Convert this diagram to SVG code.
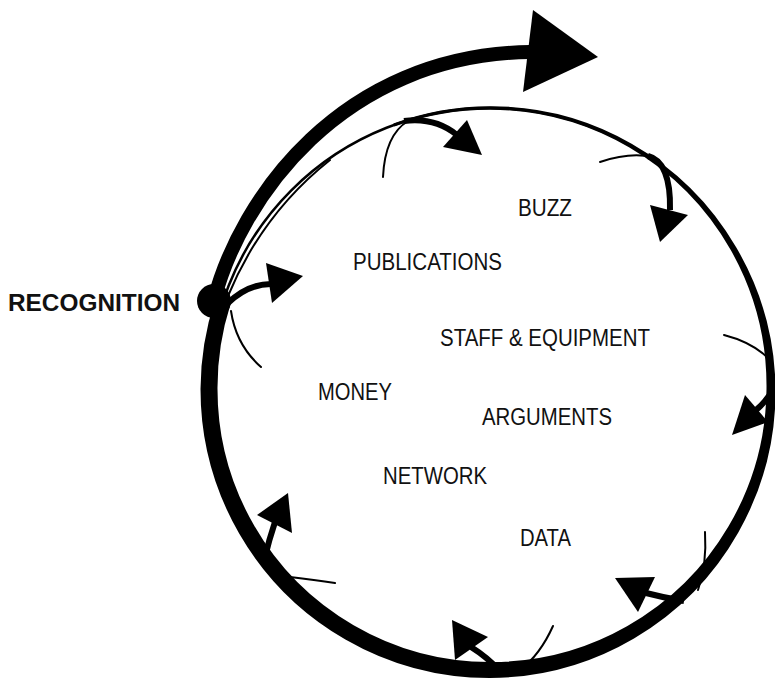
<svg xmlns="http://www.w3.org/2000/svg" width="775" height="680" viewBox="0 0 775 680">
<style>
.lbl{font-family:"Liberation Sans",Arial,sans-serif;font-size:23px;fill:#111;}
.bold{font-weight:bold;font-size:24px;}
.sh{fill:none;stroke:#000;stroke-width:6;stroke-linecap:butt;}
.sw{fill:none;stroke:#000;stroke-width:2;stroke-linecap:round;}
.hd{fill:#000;}
</style>
<rect width="775" height="680" fill="#fff"/>
<g id="connectors">
  <g id="ring">
    <circle cx="490" cy="389" r="281" fill="none" stroke="#000" stroke-width="2.5"/>
    <path fill="#000" d="M215.1,299.7 A289,289 0 0 0 200.5,389 A289.5,289.5 0 0 0 239.3,533.75 A289.5,289.5 0 0 0 345.4,639.5 A289,289 0 0 0 490,678 A288.5,288.5 0 0 0 634,638.4 A287,287 0 0 0 738.3,532.4 A286,286 0 0 0 775.5,389 A285,285 0 0 0 736,247 A283.5,283.5 0 0 0 631.6,143.7 A283,283 0 0 0 490,106.25 A282.6,282.6 0 0 0 393.4,123.5 L394.4,126.4 A279.4,279.4 0 0 1 490,109.75 A279,279 0 0 1 629.4,147.6 A278.4,278.4 0 0 1 730.75,250 A277,277 0 0 1 766.5,389 A276,276 0 0 1 728.4,526.6 A274.6,274.6 0 0 1 627,626.3 A273.5,273.5 0 0 1 490,662 A273,273 0 0 1 353.6,625.2 A272.6,272.6 0 0 1 254,525.25 A272.5,272.5 0 0 1 217.5,389 A272.7,272.7 0 0 1 230.4,304.6 Z"/>
    <path class="sw" stroke-width="1.5" d="M330,160 Q262,214 228,296"/>
  </g>
  <g id="big-arrow">
    <path fill="none" stroke="#000" stroke-width="14" d="M214,300 C240,200 340,55 530,52"/>
    <polygon class="hd" points="533,10 598,57 523,92"/>
  </g>
  <g id="arrow-recognition">
    <path class="sw" d="M231,311 Q236,345 261,367"/>
    <path class="sh" d="M228,303 Q248,284 271,284"/>
    <polygon class="hd" points="266,263 303,276 272,303"/>
  </g>
  <g id="arrow-top">
    <path class="sw" d="M383,177 Q385,135 408,121"/>
    <path class="sh" d="M404,121 Q435,117 457,135"/>
    <polygon class="hd" points="467,120 482,155 443,147"/>
  </g>
  <g id="arrow-topright">
    <path class="sw" d="M600,162 Q630,152 652,157"/>
    <path class="sh" stroke-width="5" d="M648,156 Q671,162 670,210"/>
    <polygon class="hd" points="650,205 688,215 660,242"/>
  </g>
  <g id="arrow-right">
    <path class="sw" d="M724,335 Q755,343 772,362"/>
    <path class="sh" d="M776,385 Q768,400 756,410"/>
    <polygon class="hd" points="745,395 768,422 732,435"/>
  </g>
  <g id="arrow-bottomright">
    <path class="sw" d="M705,532 Q707,565 698,590"/>
    <path class="sh" d="M684,601 Q665,598 646,593"/>
    <polygon class="hd" points="615,578 655,577 638,612"/>
  </g>
  <g id="arrow-bottom">
    <path class="sw" d="M553,626 Q540,655 520,670"/>
    <path class="sh" d="M500,671 Q487,657 471,647"/>
    <polygon class="hd" points="452,620 488,637 455,660"/>
  </g>
  <g id="arrow-bottomleft">
    <path class="sw" d="M290,577 Q315,580 335,583"/>
    <path class="sh" d="M265,557 Q269,540 275,522"/>
    <polygon class="hd" points="257,515 288,493 292,533"/>
  </g>
</g>
<g id="recognition">
  <circle cx="214" cy="301" r="17" fill="#000"/>
  <text class="lbl bold" x="8" y="311" textLength="172" lengthAdjust="spacingAndGlyphs">RECOGNITION</text>
</g>
<g id="buzz"><text class="lbl" x="518" y="216" textLength="54" lengthAdjust="spacingAndGlyphs">BUZZ</text></g>
<g id="publications"><text class="lbl" x="353" y="270" textLength="149" lengthAdjust="spacingAndGlyphs">PUBLICATIONS</text></g>
<g id="staff-equipment"><text class="lbl" x="440" y="346" textLength="210" lengthAdjust="spacingAndGlyphs">STAFF &amp; EQUIPMENT</text></g>
<g id="money"><text class="lbl" x="318" y="400" textLength="74" lengthAdjust="spacingAndGlyphs">MONEY</text></g>
<g id="arguments"><text class="lbl" x="482" y="425" textLength="130" lengthAdjust="spacingAndGlyphs">ARGUMENTS</text></g>
<g id="network"><text class="lbl" x="383" y="484" textLength="104" lengthAdjust="spacingAndGlyphs">NETWORK</text></g>
<g id="data"><text class="lbl" x="520" y="546" textLength="51" lengthAdjust="spacingAndGlyphs">DATA</text></g>
</svg>
